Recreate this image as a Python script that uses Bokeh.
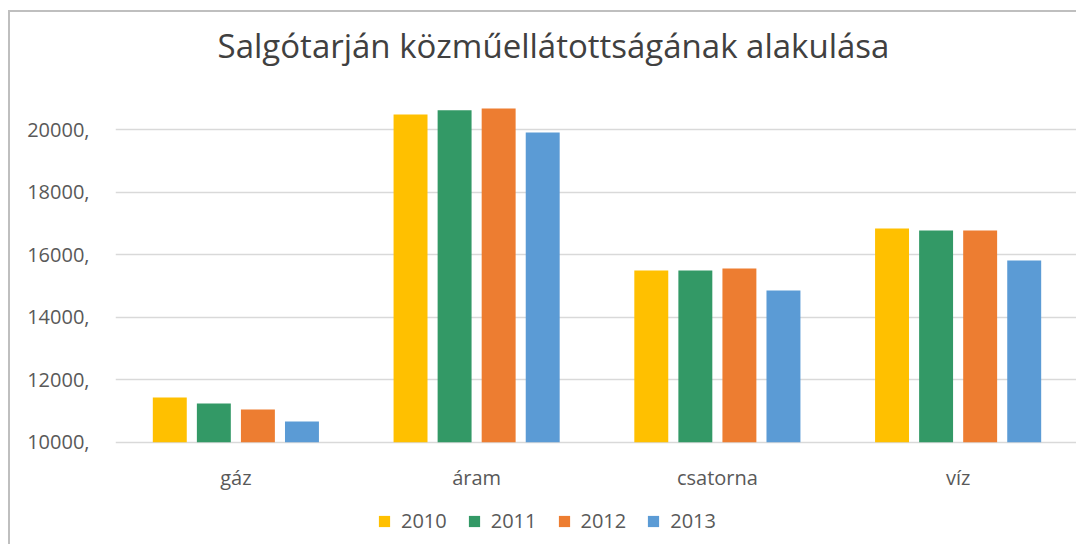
from bokeh.plotting import figure
from bokeh.models import (ColumnDataSource, FactorRange, Range1d, FixedTicker,
                          PrintfTickFormatter, Legend, LegendItem, Label)
from bokeh.core.properties import value
from bokeh.transform import dodge
from bokeh.embed import file_html
from bokeh.resources import INLINE

title_text = "Salgótarján közműellátottságának alakulása"
categories = ["gáz", "áram", "csatorna", "víz"]
years = ["2010", "2011", "2012", "2013"]
v2010 = [11430, 20490, 15496, 16840]
v2011 = [11240, 20620, 15496, 16777]
v2012 = [11047, 20682, 15560, 16777]
v2013 = [10663, 19913, 14856, 15816]
colors = ["#FFC000", "#339966", "#ED7D31", "#5B9BD5"]
y_ticks = [10000, 12000, 14000, 16000, 18000, 20000]
base = 10000

src = ColumnDataSource(dict(cat=categories, y2010=v2010, y2011=v2011,
                            y2012=v2012, y2013=v2013,
                            base=[base] * len(categories)))

FONT = "Open Sans"
TXT = "#595959"

# 31.24 px per 1000; the frame spans the full canvas height (534 px),
# 21000 sits 86 px below its top
PX = 0.03124
p = figure(width=1068, height=534, output_backend="svg", toolbar_location=None,
           x_range=FactorRange(*categories, range_padding=0),
           y_range=Range1d(21000 - 448 / PX, 21000 + 86 / PX),
           x_axis_location=None,
           min_border_left=105, min_border_right=0, min_border_top=0,
           min_border_bottom=0)

p.outline_line_color = None
p.background_fill_color = "white"
p.border_fill_color = "white"

for g in p.grid:
    if g.dimension == 0:
        g.visible = False
p.ygrid.grid_line_color = "#d9d9d9"
p.ygrid.grid_line_width = 1.5

p.yaxis.ticker = FixedTicker(ticks=y_ticks)
p.yaxis.formatter = PrintfTickFormatter(format="%d,")
p.yaxis.axis_line_color = None
p.yaxis.major_tick_line_color = None
p.yaxis.minor_tick_line_color = None
p.yaxis.major_label_text_font = FONT
p.yaxis.major_label_text_font_size = "20px"
p.yaxis.major_label_text_color = TXT
p.yaxis.major_label_standoff = 20

# title
p.add_layout(Label(x=438, y=501, x_units="screen", y_units="screen",
                   text=title_text, text_align="center",
                   text_baseline="alphabetic", text_font=FONT,
                   text_font_size="33px", text_color="#404040"))

# category labels under the 10000 baseline
p.text(x="cat", y="base", text="cat", source=src, y_offset=35,
       text_align="center", text_baseline="middle", text_font=value(FONT),
       text_font_size="20px", text_color=TXT)

step = 0.183
width = 0.141
items = []
for i, (yr, col) in enumerate(zip(years, colors)):
    r = p.vbar(x=dodge("cat", (i - 1.5) * step, range=p.x_range), top="y" + yr,
               bottom=base, width=width, source=src, color=col, line_color=None)
    items.append(LegendItem(label=yr, renderers=[r]))

leg = Legend(items=items, orientation="horizontal", location=(262, 12),
             label_text_font=FONT, label_text_font_size="20px",
             label_text_color=TXT, glyph_width=14, glyph_height=14,
             label_standoff=10, spacing=20, border_line_color=None,
             background_fill_alpha=0, padding=0, margin=0)
p.add_layout(leg, "center")

p.styles = {"margin-left": "8px", "margin-top": "10px",
            "border-top": "2px solid #bfbfbf", "border-left": "2px solid #bfbfbf"}

open("out.html", "w").write(file_html(p, INLINE))
